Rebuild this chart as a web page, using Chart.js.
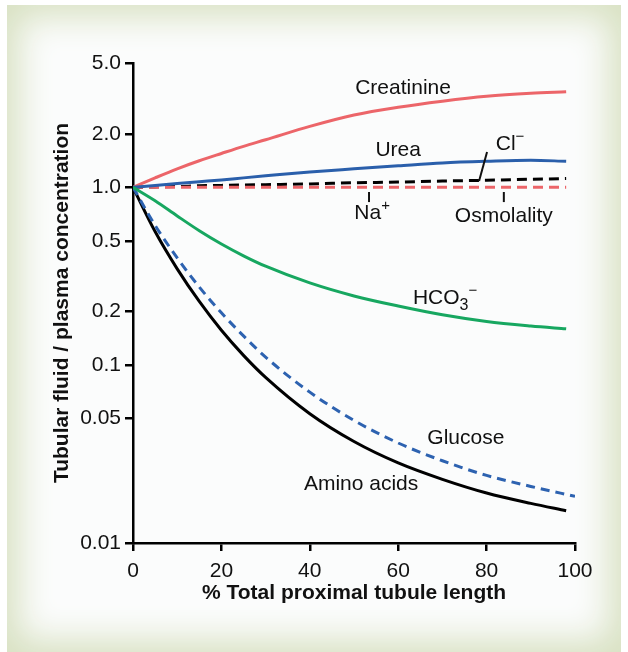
<!DOCTYPE html>
<html>
<head>
<meta charset="utf-8">
<script src="https://cdn.jsdelivr.net/npm/chart.js@4/dist/chart.umd.min.js"></script>
<style>
  html, body { margin: 0; padding: 0; background: #ffffff; }
  #wrap { position: relative; width: 628px; height: 652px; overflow: hidden; }
  #frame {
    position: absolute; left: 7px; top: 5px; width: 614px; height: 647px;
    background: #fbfcfc;
    box-shadow: inset 0 0 34px 12px #d8e1c2;
  }
  #c { position: absolute; left: 0; top: 0; }
</style>
</head>
<body>
<div id="wrap">
  <div id="frame"></div>
  <canvas id="c" width="628" height="652"></canvas>
</div>
<script>
// ---- data ----
const tubuleLengthPct = [0, 5, 10, 15, 20, 25, 30, 40, 50, 60, 70, 80, 90, 98];
const glucoseLengthPct = [0, 5, 10, 15, 20, 25, 30, 40, 50, 60, 70, 80, 90, 100];

const creatinine  = [1.0, 1.13, 1.27, 1.41, 1.55, 1.70, 1.85, 2.20, 2.55, 2.82, 3.05, 3.25, 3.38, 3.45];
const urea        = [1.0, 1.025, 1.05, 1.075, 1.10, 1.13, 1.16, 1.22, 1.27, 1.32, 1.37, 1.40, 1.42, 1.40];
const chloride    = [1.0, 1.005, 1.01, 1.02, 1.025, 1.03, 1.035, 1.045, 1.06, 1.07, 1.085, 1.095, 1.11, 1.12];
const osmolality  = [1.0, 1.0, 1.0, 1.0, 1.0, 1.0, 1.0, 1.0, 1.0, 1.0, 1.0, 1.0, 1.0, 1.0];
const bicarbonate = [1.0, 0.84, 0.69, 0.57, 0.48, 0.412, 0.36, 0.29, 0.245, 0.215, 0.192, 0.176, 0.166, 0.160];
const glucose     = [1.0, 0.611, 0.401, 0.275, 0.197, 0.146, 0.111, 0.0705, 0.0489, 0.0365, 0.0290, 0.0240, 0.0208, 0.0183];
const aminoAcids  = [1.0, 0.564, 0.348, 0.228, 0.157, 0.1135, 0.0853, 0.0533, 0.0372, 0.0282, 0.0228, 0.0191, 0.0167, 0.0152];

const yTickValues = [0.01, 0.05, 0.1, 0.2, 0.5, 1, 2, 5];
const yTickLabels = ['0.01', '0.05', '0.1', '0.2', '0.5', '1.0', '2.0', '5.0'];
const xTickValues = [0, 20, 40, 60, 80, 100];

const xTitle = '% Total proximal tubule length';
const yTitle = 'Tubular fluid / plasma concentration';

// curve labels, placed in data units: [x %, y ratio]
const labelParts = {
  creatinine: [{t: 'Creatinine'}],
  urea: [{t: 'Urea'}],
  cl: [{t: 'Cl'}, {t: '\u2212', sup: true}],
  na: [{t: 'Na'}, {t: '+', sup: true}],
  osm: [{t: 'Osmolality'}],
  hco3: [{t: 'HCO'}, {t: '3', sub: true}, {t: '\u2212', sup: true}],
  glucose: [{t: 'Glucose'}],
  amino: [{t: 'Amino acids'}]
};
const labelAt = {
  creatinine: [61.1, 3.62],
  urea: [60.0, 1.62],
  cl: [85.3, 1.75],
  na: [54.1, 0.717],
  osm: [83.9, 0.690],
  hco3: [70.6, 0.238],
  glucose: [75.3, 0.0389],
  amino: [51.6, 0.0214]
};
// leader lines in data units: [x1, y1, x2, y2]
const leaders = [
  [80.1, 1.58, 78.3, 1.084],
  [53.4, 0.941, 53.4, 0.826],
  [83.9, 0.941, 83.9, 0.826]
];

// ---- chart ----
const FONT = '"Liberation Sans", Arial, Helvetica, sans-serif';
const pts = (arr, xs) => arr.map((v, i) => ({x: (xs || tubuleLengthPct)[i], y: v}));

function ds(data, color, dash) {
  return {
    data: data,
    borderColor: color,
    borderWidth: 3,
    borderDash: dash || [],
    pointRadius: 0,
    cubicInterpolationMode: 'monotone',
    fill: false
  };
}

const annot = {
  id: 'annot',
  afterDatasetsDraw(chart) {
    const {ctx, scales: {x, y}} = chart;
    ctx.save();
    ctx.strokeStyle = '#111';
    ctx.lineWidth = 2;
    leaders.forEach(l => {
      ctx.beginPath();
      ctx.moveTo(x.getPixelForValue(l[0]), y.getPixelForValue(l[1]));
      ctx.lineTo(x.getPixelForValue(l[2]), y.getPixelForValue(l[3]));
      ctx.stroke();
    });
    ctx.fillStyle = '#111';
    ctx.textBaseline = 'middle';
    ctx.textAlign = 'left';
    Object.keys(labelParts).forEach(k => {
      const parts = labelParts[k];
      const px = x.getPixelForValue(labelAt[k][0]);
      const py = y.getPixelForValue(labelAt[k][1]);
      let w = 0;
      parts.forEach(p => {
        ctx.font = (p.sub ? '16px ' : p.sup ? '15px ' : '21px ') + FONT;
        p.w = ctx.measureText(p.t).width;
        w += p.w;
      });
      let cx = px - w / 2;
      parts.forEach(p => {
        ctx.font = (p.sub ? '16px ' : p.sup ? '15px ' : '21px ') + FONT;
        const dy = p.sub ? 7 : (p.sup ? -7 : 0);
        ctx.fillText(p.t, cx, py + dy);
        cx += p.w;
      });
    });
    ctx.restore();
  }
};

new Chart(document.getElementById('c'), {
  type: 'line',
  data: {
    datasets: [
      ds(pts(bicarbonate), '#17a760'),
      ds(pts(glucose, glucoseLengthPct), '#2d62b0', [9, 6]),
      ds(pts(aminoAcids), '#000000'),
      ds(pts(urea), '#2a5fab'),
      ds(pts(creatinine), '#ec6569'),
      ds(pts(osmolality), '#ec6569', [10, 6]),
      ds(pts(chloride), '#000000', [10, 6])
    ]
  },
  options: {
    responsive: false,
    animation: false,
    events: [],
    layout: {padding: {top: 63, right: 53, left: 0, bottom: 0}},
    plugins: {legend: {display: false}, tooltip: {enabled: false}},
    scales: {
      x: {
        type: 'linear', min: 0, max: 100,
        afterBuildTicks: s => { s.ticks = xTickValues.map(v => ({value: v})); },
        afterFit: s => { s.height = 109; },
        ticks: {color: '#111', font: {family: FONT, size: 21}, padding: 8, maxRotation: 0},
        grid: {drawOnChartArea: false, drawTicks: true, tickLength: 8, color: '#000', lineWidth: 2.5},
        border: {display: true, color: '#000', width: 2.5},
        title: {display: true, text: xTitle, color: '#111',
                font: {family: FONT, size: 21, weight: 'bold'}, padding: {top: 0, bottom: 46}}
      },
      y: {
        type: 'logarithmic', min: 0.01, max: 5,
        afterBuildTicks: s => { s.ticks = yTickValues.map(v => ({value: v})); },
        afterFit: s => { s.width = 133; },
        ticks: {
          color: '#111', font: {family: FONT, size: 21}, padding: 4,
          callback: v => { const i = yTickValues.indexOf(v); return i >= 0 ? yTickLabels[i] : ''; }
        },
        grid: {drawOnChartArea: false, drawTicks: true, tickLength: 8, color: '#000', lineWidth: 2.5},
        border: {display: true, color: '#000', width: 2.5},
        title: {display: true, text: yTitle, color: '#111',
                font: {family: FONT, size: 21, weight: 'bold'}, padding: {top: 50, bottom: 0}}
      }
    }
  },
  plugins: [annot]
});
</script>
</body>
</html>
